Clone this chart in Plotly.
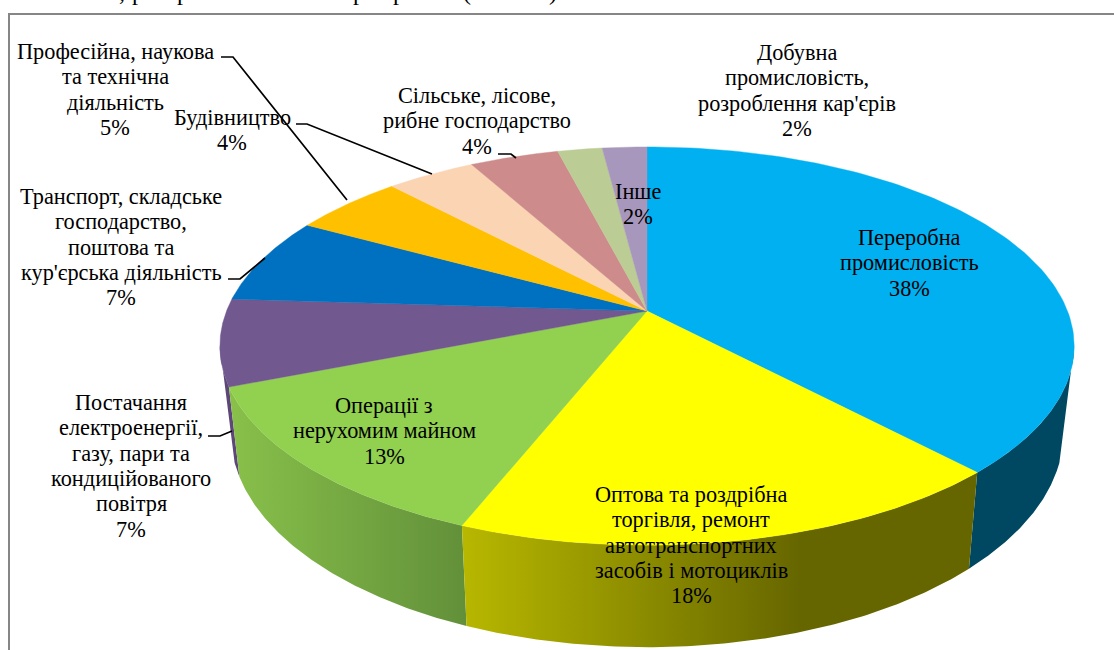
import numpy as np
import plotly.graph_objects as go

# ---- data (clockwise from 12 o'clock) ----
categories = [
    "Переробна<br>промисловість",
    "Оптова та роздрібна<br>торгівля, ремонт<br>автотранспортних<br>засобів і мотоциклів",
    "Операції з<br>нерухомим майном",
    "Постачання<br>електроенергії,<br>газу, пари та<br>кондиційованого<br>повітря",
    "Транспорт, складське<br>господарство,<br>поштова та<br>кур'єрська діяльність",
    "Професійна, наукова<br>та технічна<br>діяльність",
    "Будівництво",
    "Сільське, лісове,<br>рибне господарство",
    "Добувна<br>промисловість,<br>розроблення кар'єрів",
    "Інше",
]
values = [38, 18, 13, 7, 7, 5, 4, 4, 2, 2]

top_colors = ["#00B0F0", "#FFFF00", "#92D050", "#71588F", "#0070C0",
              "#FFC000", "#FBD4B4", "#CD8C8B", "#BBCC94", "#A897BC"]
# (left colour, right colour, gradient start px, gradient stop px) for the rim of each slice
wall_styles = {
    0: ("#004762", "#004762", 960, 1074),
    1: ("#B8B800", "#666600", 460, 800),
    2: ("#88C04A", "#62903A", 232, 465),
    3: ("#5C4778", "#5C4778", 220, 240),
}

# centre x and first-line y of each label
label_pos = [(909, 237.5), (691, 494.5), (384, 405.5), (131, 402.5), (121, 196.5),
             (115, 51.5), (232, 117.5), (477, 95.5), (797, 52.5), (638, 191.5)]
LINE_STEP = 25.3

leaders = [
    ([221, 233, 347], [57, 57, 200]),
    ([296, 307, 432], [124, 124, 174]),
    ([498, 511, 516], [154, 154, 158]),
    ([228, 240, 265], [279, 279, 258]),
    ([208, 220, 232], [436, 436, 431]),
]

top_fragments = [(122, ","), (138, "р"), (183, "р"), (359, "р"), (399, "р"),
                 (467, "("), (553, ")")]

FONT = "Liberation Serif"
# perspective projection of the pie disc
CX, CY, A, B, K = 647, 311, 420.5, 193, 0.176
DEPTH, SHRINK = 84, 0.975
# visible part of the rim: angles (deg) where the silhouette leaves the top and bottom ellipses
RIM_TOP = (100, 260)
RIM_BOTTOM = (108, 252)


def project(theta):
    u, v = np.sin(theta), np.cos(theta)
    d = 1 + K * v
    return CX + A * u / d, CY - B * v / d


def project_bottom(theta):
    x, y = project(theta)
    return CX + (x - CX) * SHRINK, y + DEPTH / (1 + K * np.cos(theta))


fractions = np.cumsum([0] + values) / sum(values)
fig = go.Figure()

# rims, back to front
for i in [3, 2, 0, 1]:
    a0, a1 = 360 * fractions[i], 360 * fractions[i + 1]
    tt = np.radians(np.linspace(max(a0, RIM_TOP[0]), min(a1, RIM_TOP[1]), 120))
    tb = np.radians(np.linspace(max(a0, RIM_BOTTOM[0]), min(a1, RIM_BOTTOM[1]), 120))
    xt, yt = project(tt)
    xb, yb = project_bottom(tb)
    c0, c1, g0, g1 = wall_styles[i]
    fig.add_trace(go.Scatter(
        x=np.r_[xt, xb[::-1], xt[0]], y=np.r_[yt, yb[::-1], yt[0]],
        mode="lines", line=dict(width=0), fill="toself", hoverinfo="skip",
        fillgradient=dict(type="horizontal", start=g0, stop=g1,
                          colorscale=[[0, c0], [1, c1]]),
    ))

# top faces
for i, col in enumerate(top_colors):
    t = np.linspace(2 * np.pi * fractions[i], 2 * np.pi * fractions[i + 1], 120)
    xt, yt = project(t)
    fig.add_trace(go.Scatter(
        x=np.r_[CX, xt, CX], y=np.r_[CY, yt, CY],
        mode="lines", line=dict(width=0.4, color=col), fill="toself",
        fillcolor=col, hoverinfo="skip",
    ))

# leader lines
for lx, ly in leaders:
    fig.add_trace(go.Scatter(x=lx, y=ly, mode="lines", hoverinfo="skip",
                             line=dict(color="black", width=1.7)))

# frame
fig.add_trace(go.Scatter(x=[9, 9, 1114], y=[650, 14, 14], mode="lines", hoverinfo="skip",
                         line=dict(color="#868686", width=2)))

annotations = []
for name, val, (lx, ly) in zip(categories, values, label_pos):
    for n, line in enumerate(name.split("<br>") + [f"{val}%"]):
        annotations.append(dict(x=lx, y=ly + n * LINE_STEP, xref="x", yref="y", text=line,
                                showarrow=False, align="center", xanchor="center", yanchor="middle",
                                font=dict(family=FONT, size=22.3, color="black")))
for fx, ch in top_fragments:
    annotations.append(dict(x=fx, y=7, xref="x", yref="y", text=ch, showarrow=False,
                            xanchor="center", yanchor="bottom",
                            font=dict(family=FONT, size=24, color="black")))

fig.update_layout(
    width=1114, height=650, margin=dict(l=0, r=0, t=0, b=0),
    paper_bgcolor="white", plot_bgcolor="white", showlegend=False,
    xaxis=dict(range=[0, 1114], visible=False, fixedrange=True),
    yaxis=dict(range=[650, 0], visible=False, fixedrange=True),
    annotations=annotations,
)
fig.write_html("out.html", config=dict(displayModeBar=False),
               post_script="document.body.style.margin='0';")
